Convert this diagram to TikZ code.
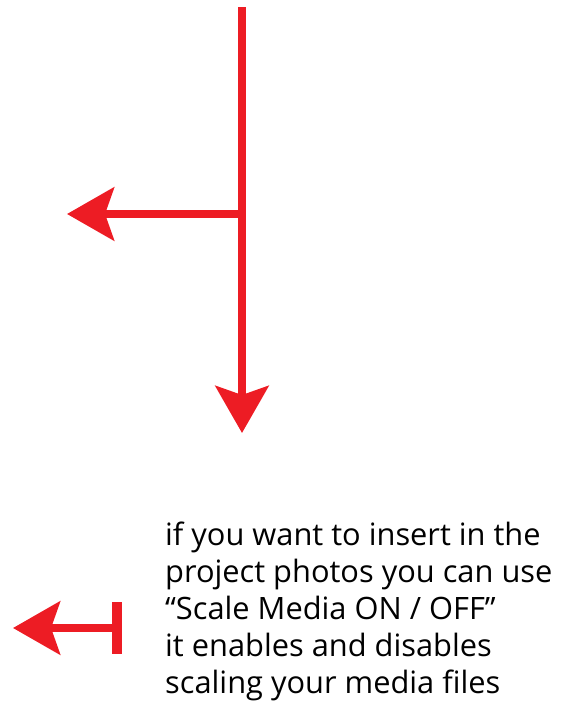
\documentclass[tikz,border=0pt]{standalone}
\usepackage{fontspec}
\setmainfont{Open Sans}
\usetikzlibrary{arrows.meta}
\definecolor{arrowred}{RGB}{237,28,36}
\begin{document}
\begin{tikzpicture}[x=1pt, y=-1pt,
    redline/.style={arrowred, line width=8pt},
    redtip/.style={-{Stealth[length=47pt,width=53pt,inset=9pt]}}]
    \useasboundingbox (0,0) rectangle (574,718);
    \coordinate (top) at (242,7);
    \coordinate (bottom) at (242,433);
    \coordinate (junction) at (242,214);
    \coordinate (left) at (67,214);
    \draw[redline,redtip] (top) -- (bottom);
    \draw[redline,redtip] (junction) -- (left);

    % legend
    \coordinate (barmid) at (112,628);
    \coordinate (legendtip) at (13,628);
    \coordinate (bartop) at (116.5,602);
    \coordinate (barbottom) at (116.5,654);
    \draw[redline,redtip] (barmid) -- (legendtip);
    \draw[arrowred, line width=10pt] (bartop) -- (barbottom);
    \node[anchor=base west, align=left, inner sep=0pt,
          font=\fontsize{30.8}{37}\selectfont] (note) at (165,693)
        {if you want to insert in the\\project photos you can use\\“Scale Media ON / OFF”\\it enables and disables\\scaling your media files};
\end{tikzpicture}
\end{document}
